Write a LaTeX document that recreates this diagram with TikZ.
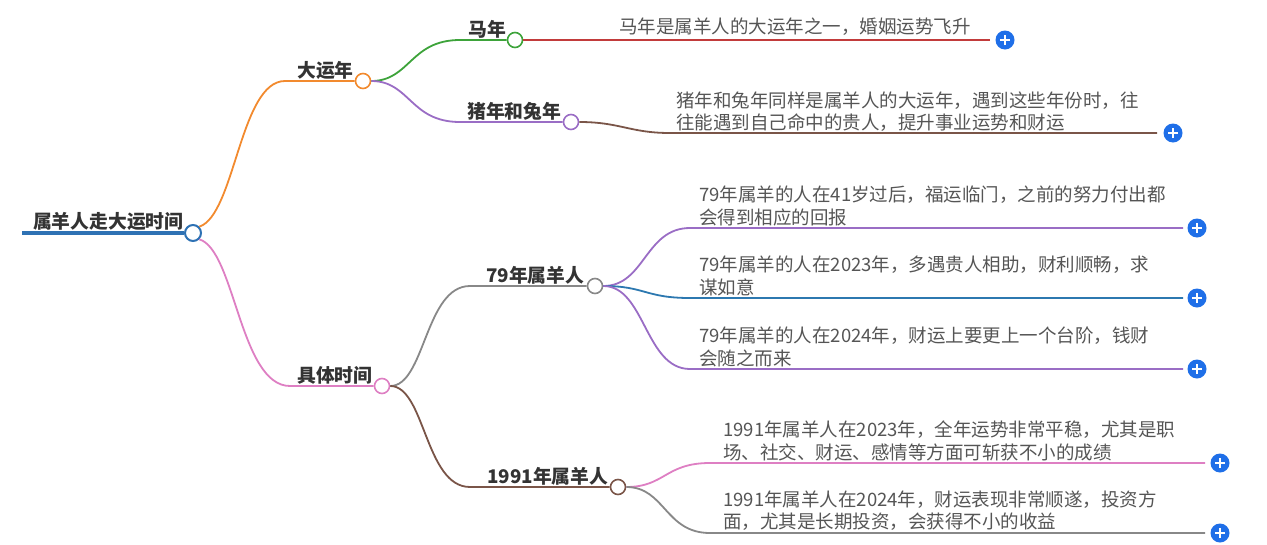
\documentclass[tikz,border=0pt]{standalone}
\usepackage{fontspec}
\setmainfont{Noto Sans CJK SC}
\definecolor{rootblue}{HTML}{2E72B4}
\definecolor{corange}{HTML}{F28A2E}
\definecolor{cpink}{HTML}{DE7FC3}
\definecolor{cgreen}{HTML}{3DA33A}
\definecolor{cpurple}{HTML}{9A6DC5}
\definecolor{cred}{HTML}{C23B3B}
\definecolor{cbrown}{HTML}{7A5548}
\definecolor{cgrey}{HTML}{888888}
\definecolor{cblue}{HTML}{2C78B0}
\definecolor{plusblue}{HTML}{1F6FE8}
\definecolor{tdark}{HTML}{333333}
\definecolor{tleaf}{HTML}{555555}
\tikzset{
  lbl/.style={anchor=base west, inner sep=0pt, font=\fontsize{18.8}{22}\selectfont\bfseries, text=tdark},
  leaf/.style={anchor=south west, inner sep=0pt, align=left, font=\fontsize{18.5}{22.5}\selectfont, text=tleaf},
  knob/.style={circle, draw=#1, fill=white, line width=1.6pt, minimum size=15pt, inner sep=0pt},
  conn/.style={line width=1.8pt, draw=#1},
  plusbtn/.style={circle, fill=plusblue, minimum size=19pt, inner sep=0pt, path picture={
      \draw[white, line width=2pt] ([xshift=-5pt]path picture bounding box.center) -- ([xshift=5pt]path picture bounding box.center);
      \draw[white, line width=2pt] ([yshift=-5pt]path picture bounding box.center) -- ([yshift=5pt]path picture bounding box.center);}},
}
\begin{document}
\begin{tikzpicture}[x=1pt,y=-1pt]
\useasboundingbox (0,0) rectangle (1267,544);
% root
\coordinate (r0) at (22,233);
\node[knob=rootblue, line width=2pt, minimum size=16pt] (root) at (193,233) {};
\node[lbl] (rootlbl) at (33,228) {属羊人走大运时间};
\draw[line width=4pt, rootblue] (r0) -- (root.west);
% level 1
\node[knob=corange] (k1) at (363,81) {};
\node[lbl] (k1lbl) at (297,77) {大运年};
\coordinate (k1s) at (285,81);
\draw[conn=corange] (root.north east) .. controls (235,215) and (240,81) .. (k1s) -- (k1.west);
\node[knob=cpink] (k2) at (382,386) {};
\node[lbl] (k2lbl) at (297,382) {具体时间};
\coordinate (k2s) at (290,386);
\draw[conn=cpink] (root.south east) .. controls (235,250) and (240,386) .. (k2s) -- (k2.west);
% level 2 under 大运年
\node[knob=cgreen] (m1) at (515,40) {};
\node[lbl] (m1lbl) at (468,36) {马年};
\coordinate (m1s) at (460,40);
\draw[conn=cgreen] (k1.east) .. controls (410,81) and (410,40) .. (m1s) -- (m1.west);
\node[knob=cpurple] (m2) at (571,122) {};
\node[lbl] (m2lbl) at (467,118) {猪年和兔年};
\coordinate (m2s) at (460,122);
\draw[conn=cpurple] (k1.east) .. controls (410,81) and (410,122) .. (m2s) -- (m2.west);
% level 2 under 具体时间
\node[knob=cgrey] (m3) at (595,286) {};
\node[lbl] (m3lbl) at (486,282) {79年属羊人};
\coordinate (m3s) at (470,286);
\draw[conn=cgrey] (k2.east) .. controls (425,386) and (425,286) .. (m3s) -- (m3.west);
\node[knob=cbrown] (m4) at (618,487) {};
\node[lbl] (m4lbl) at (487,483) {1991年属羊人};
\coordinate (m4s) at (470,487);
\draw[conn=cbrown] (k2.east) .. controls (425,386) and (425,487) .. (m4s) -- (m4.west);
% leaves
\node[plusbtn] (p1) at (1005,40) {};
\node[leaf] (t1) at (619,36) {马年是属羊人的大运年之一，婚姻运势飞升};
\draw[conn=cred] (m1.east) -- (990,40);
\node[plusbtn] (p2) at (1173,133) {};
\node[leaf] (t2) at (676,132) {猪年和兔年同样是属羊人的大运年，遇到这些年份时，往\\往能遇到自己命中的贵人，提升事业运势和财运};
\coordinate (e2) at (670,133);
\draw[conn=cbrown] (m2.east) .. controls (620,122) and (630,133) .. (e2) -- (1157,133);
\node[plusbtn] (p3) at (1197,228) {};
\node[leaf] (t3) at (699,226) {79年属羊的人在41岁过后，福运临门，之前的努力付出都\\会得到相应的回报};
\coordinate (e3) at (690,228);
\draw[conn=cpurple] (m3.east) .. controls (645,286) and (645,228) .. (e3) -- (1183,228);
\node[plusbtn] (p4) at (1197,298) {};
\node[leaf] (t4) at (699,296) {79年属羊的人在2023年，多遇贵人相助，财利顺畅，求\\谋如意};
\coordinate (e4) at (690,298);
\draw[conn=cblue] (m3.east) .. controls (645,286) and (645,298) .. (e4) -- (1183,298);
\node[plusbtn] (p5) at (1197,369) {};
\node[leaf] (t5) at (699,367) {79年属羊的人在2024年，财运上要更上一个台阶，钱财\\会随之而来};
\coordinate (e5) at (690,369);
\draw[conn=cpurple] (m3.east) .. controls (645,286) and (645,369) .. (e5) -- (1183,369);
\node[plusbtn] (p6) at (1220,463) {};
\node[leaf] (t6) at (723,461) {1991年属羊人在2023年，全年运势非常平稳，尤其是职\\场、社交、财运、感情等方面可斩获不小的成绩};
\coordinate (e6) at (710,463);
\draw[conn=cpink] (m4.east) .. controls (665,487) and (665,463) .. (e6) -- (1205,463);
\node[plusbtn] (p7) at (1220,533) {};
\node[leaf] (t7) at (723,531) {1991年属羊人在2024年，财运表现非常顺遂，投资方\\面，尤其是长期投资，会获得不小的收益};
\coordinate (e7) at (710,533);
\draw[conn=cgrey] (m4.east) .. controls (665,487) and (665,533) .. (e7) -- (1205,533);
\end{tikzpicture}
\end{document}
